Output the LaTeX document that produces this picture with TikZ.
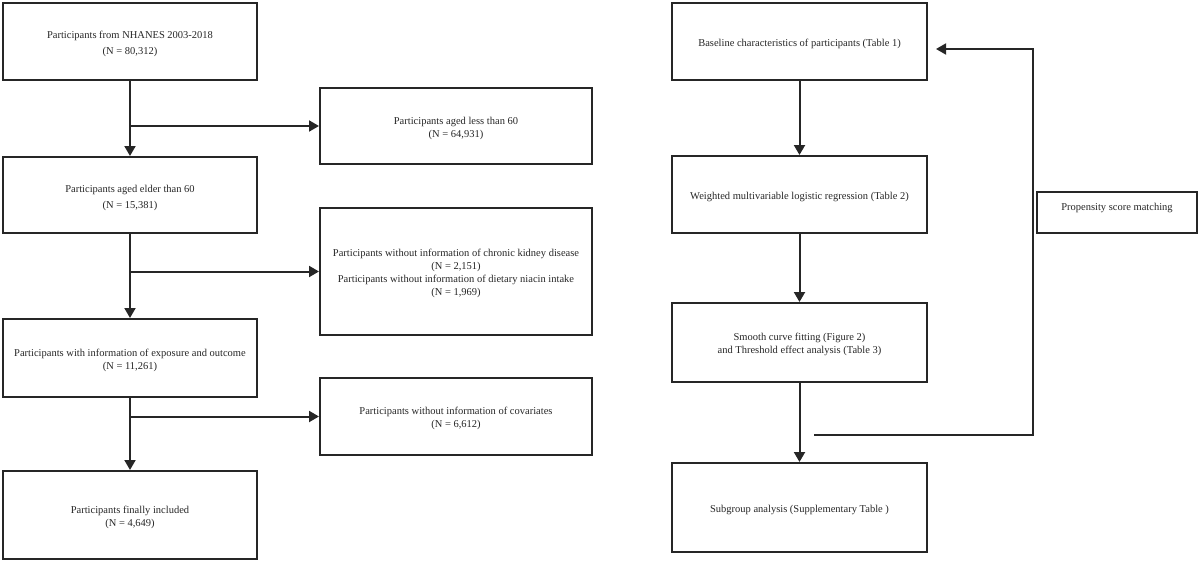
\documentclass[tikz,border=0pt]{standalone}
\usepackage{fontspec}
\setmainfont{Liberation Serif}
\usetikzlibrary{arrows.meta}
\newcommand\boxtext[1]{\raisebox{-5pt}[0pt][0pt]{\begin{tabular}{@{}c@{}}#1\end{tabular}}}
\begin{document}
\begin{tikzpicture}[x=1pt,y=-1pt,
  box/.style={draw=black!85,line width=2pt,align=center,inner sep=0pt,
    font=\fontsize{10.5}{13}\selectfont,text=black!85},
  wide/.style={font=\fontsize{10.5}{16}\selectfont},
  conn/.style={line width=2pt,draw=black!85},
  arr/.style={conn,-{Triangle[length=10pt,width=11pt]}}]
\useasboundingbox (0,0) rectangle (1200,562);
% left column
\node[box,wide,minimum width=254pt,minimum height=77pt] (A) at (130,41.5) {\boxtext{Participants from NHANES 2003-2018\\(N = 80,312)}};
\node[box,wide,minimum width=254pt,minimum height=76pt] (B) at (130,195) {\boxtext{Participants aged elder than 60\\(N = 15,381)}};
\node[box,minimum width=254pt,minimum height=78pt] (C) at (130,358) {\boxtext{Participants with information of exposure and outcome\\(N = 11,261)}};
\node[box,minimum width=254pt,minimum height=88pt] (D) at (130,515) {\boxtext{Participants finally included\\(N = 4,649)}};
\node[box,minimum width=272pt,minimum height=76pt] (E) at (456,126) {\boxtext{Participants aged less than 60\\(N = 64,931)}};
\node[box,minimum width=272pt,minimum height=127pt] (F) at (456,271.5) {\boxtext{Participants without information of chronic kidney disease\\(N = 2,151)\\Participants without information of dietary niacin intake\\(N = 1,969)}};
\node[box,minimum width=272pt,minimum height=77pt] (G) at (456,416.5) {\boxtext{Participants without information of covariates\\(N = 6,612)}};
% right column
\node[box,minimum width=255pt,minimum height=77pt] (H) at (799.5,41.5) {\boxtext{Baseline characteristics of participants (Table 1)}};
\node[box,minimum width=255pt,minimum height=77pt] (I) at (799.5,194.5) {\boxtext{Weighted multivariable logistic regression (Table 2)}};
\node[box,minimum width=255pt,minimum height=79pt] (J) at (799.5,342.5) {\boxtext{Smooth curve fitting (Figure 2)\\and Threshold effect analysis (Table 3)}};
\node[box,minimum width=255pt,minimum height=89pt] (K) at (799.5,507.5) {\boxtext{Subgroup analysis (Supplementary Table )}};
\node[box,minimum width=160pt,minimum height=41pt] (L) at (1117,212.5) {\raisebox{2pt}[0pt][0pt]{Propensity score matching}};
% left connectors
\draw[arr] (A.south) -- (B.north);
\draw[arr] (A.south |- E.west) -- (E.west);
\draw[arr] (B.south) -- (C.north);
\draw[arr] (B.south |- F.west) -- (F.west);
\draw[arr] (C.south) -- (D.north);
\draw[arr] (C.south |- G.west) -- (G.west);
% right connectors
\draw[arr] (H.south) -- (I.north);
\draw[arr] (I.south) -- (J.north);
\draw[arr] (J.south) -- (K.north);
\coordinate (fa) at (814,435);
\coordinate (fc) at (1033,49);
\coordinate (fd) at (936,49);
\draw[arr,line width=1.8pt] (fa) -| (fc) -- (fd);
\end{tikzpicture}
\end{document}
